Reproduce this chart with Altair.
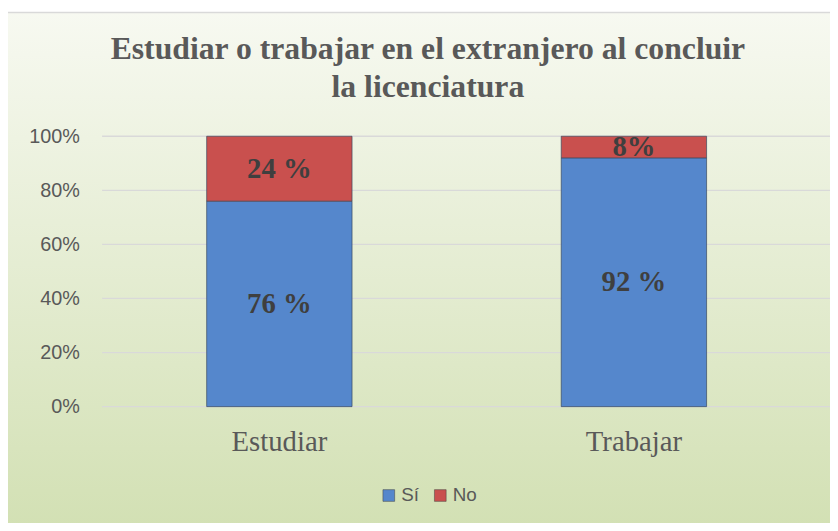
import altair as alt
import pandas as pd

categories = ["Estudiar", "Trabajar"]
si_values = [76, 92]
no_values = [24, 8]
si_labels = ["76 %", "92 %"]
no_labels = ["24 %", "8%"]
y_ticks = [0, 20, 40, 60, 80, 100]
title_lines = ["Estudiar o trabajar en el extranjero al concluir", "la licenciatura"]

rows = []
for c, s, n, sl, nl in zip(categories, si_values, no_values, si_labels, no_labels):
    rows.append({"cat": c, "serie": "Sí", "lo": 0, "hi": s, "mid": s / 2, "label": sl})
    rows.append({"cat": c, "serie": "No", "lo": s, "hi": s + n, "mid": s + n / 2, "label": nl})
df = pd.DataFrame(rows)

W, H = 716, 273

xscale = alt.Scale(domain=categories, paddingInner=0.59, paddingOuter=0.295)
yscale = alt.Scale(domain=[0, 100], nice=False)
color_scale = alt.Scale(domain=["Sí", "No"], range=["#5587cc", "#c9504e"])

yaxis = alt.Axis(title=None, values=y_ticks, labelExpr="datum.value + '%'",
                 labelFont="Liberation Sans", labelFontSize=20,
                 labelColor="#595959", labelPadding=23, ticks=False,
                 domain=False, grid=False, zindex=1)

bg = alt.Chart(pd.DataFrame({"a": [0]})).mark_rect(
    fill=alt.Gradient(
        gradient="linear",
        stops=[alt.GradientStop(color="#f7f9f1", offset=0),
               alt.GradientStop(color="#d2e0b3", offset=1)],
        x1=0, x2=0, y1=0, y2=1,
    ),
    stroke="#d9d9d9",
    strokeWidth=1.5,
).encode(
    x=alt.value(-96), x2=alt.value(740),
    y=alt.value(-125), y2=alt.value(400),
)

grid = alt.Chart(pd.DataFrame({"t": y_ticks})).mark_rule(
    color="#d9d9d9", strokeWidth=1.3
).encode(
    y=alt.Y("t:Q", scale=yscale, axis=yaxis),
    x=alt.value(0), x2=alt.value(W + 30),
)

bars = alt.Chart(df).mark_bar(
    stroke="#3a4a60", strokeWidth=1, strokeOpacity=0.7
).encode(
    x=alt.X("cat:N", scale=xscale, sort=categories,
            axis=alt.Axis(title=None, labelFont="Liberation Serif", labelFontSize=29,
                          labelColor="#595959", labelPadding=21, ticks=False,
                          domain=False, grid=False, labelAngle=0, zindex=1)),
    y=alt.Y("lo:Q", scale=yscale, axis=yaxis),
    y2="hi:Q",
    color=alt.Color("serie:N", scale=color_scale, sort=["Sí", "No"],
                    legend=alt.Legend(title=None, orient="none", legendX=280, legendY=353,
                                      direction="horizontal", symbolType="square",
                                      symbolSize=140, symbolStrokeColor="#404040",
                                      symbolStrokeWidth=0.5,
                                      labelFont="Liberation Sans", labelFontSize=19,
                                      labelColor="#595959", columnPadding=12,
                                      labelOffset=3, zindex=1)),
)

labels = alt.Chart(df).mark_text(
    font="Liberation Serif", fontSize=29, fontWeight="bold", color="#3f3f3f",
    baseline="middle",
).encode(
    x=alt.X("cat:N", scale=xscale, sort=categories),
    y=alt.Y("mid:Q", scale=yscale),
    text="label:N",
)

title = alt.Chart(pd.DataFrame({"txt": ["\n".join(title_lines)]})).mark_text(
    font="Liberation Serif", fontSize=32, fontWeight="bold", color="#595959",
    baseline="middle", align="center", lineBreak="\n", lineHeight=38,
).encode(
    x=alt.value(W / 2 - 29),
    y=alt.value(-88),
    text="txt:N",
)

chart = alt.layer(bg, grid, bars, labels, title).properties(
    width=W, height=H,
    padding={"left": 95, "top": 127, "right": 19, "bottom": 115},
    autosize=alt.AutoSizeParams(type="none"),
).configure_view(stroke=None).configure(background="white")

chart.save("out.html", embed_options={"renderer": "svg", "actions": False})
